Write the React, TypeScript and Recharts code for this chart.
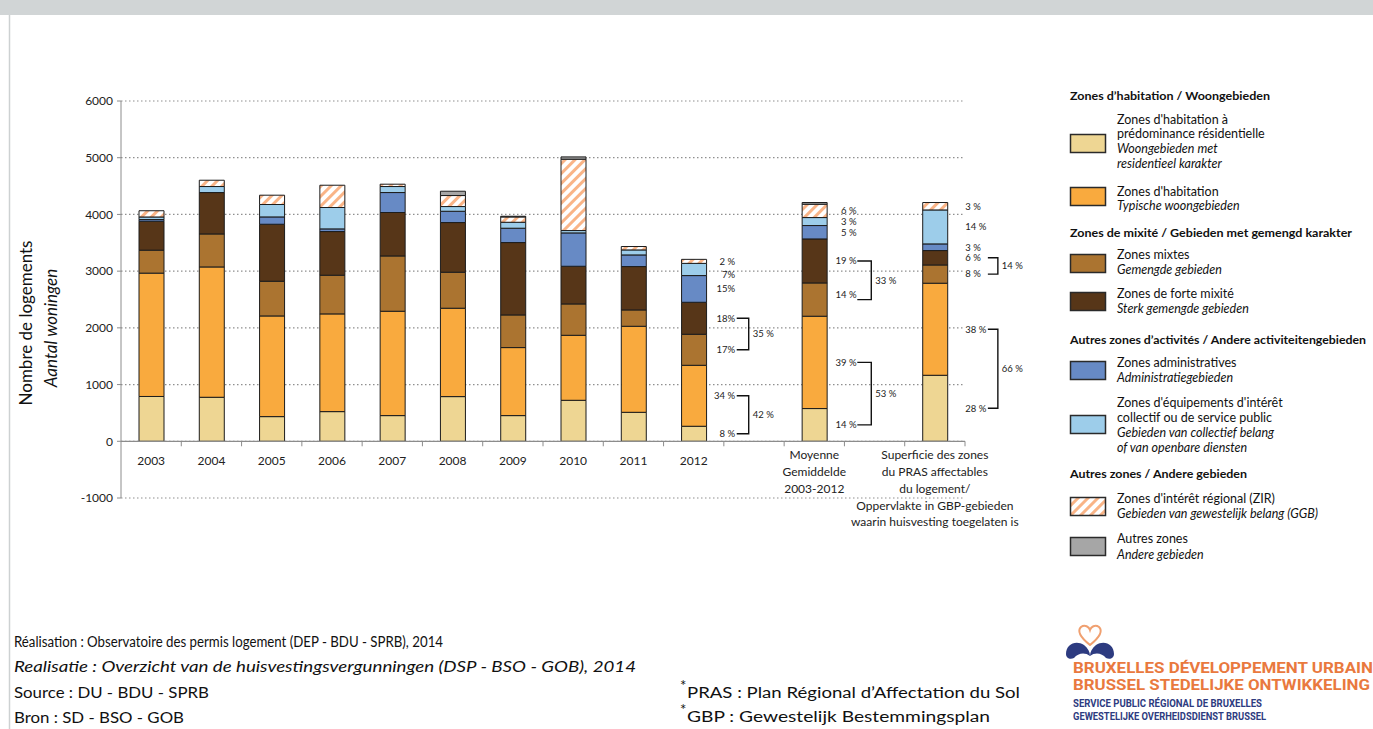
import React from 'react';
import { BarChart, Bar, XAxis, YAxis, CartesianGrid, ReferenceLine, LabelList } from 'recharts';

const FONT = 'Lato, "Open Sans", sans-serif';

// ---------- DATA ----------
const categoryKeys = ['2003', '2004', '2005', '2006', '2007', '2008', '2009', '2010', '2011', '2012', 'gap1', 'moy', 'gap2', 'sup'];
const categoryLabels: string[][] = [
  ['2003'], ['2004'], ['2005'], ['2006'], ['2007'], ['2008'], ['2009'], ['2010'], ['2011'], ['2012'],
  [],
  ['Moyenne', 'Gemiddelde', '2003-2012'],
  [],
  ['Superficie des zones', 'du PRAS affectables', 'du logement/', 'Oppervlakte in GBP-gebieden', 'waarin huisvesting toegelaten is'],
];

const residential = [790, 776, 435, 523, 453, 788, 453, 723, 511, 265, null, 577, null, 1164];
const typical = [2175, 2298, 1775, 1723, 1840, 1558, 1199, 1146, 1517, 1075, null, 1628, null, 1623];
const mixed = [405, 582, 612, 682, 975, 635, 576, 553, 288, 547, null, 587, null, 322];
const strongMixed = [510, 730, 1005, 770, 766, 876, 1276, 664, 765, 564, null, 776, null, 254];
const administrative = [30, null, 129, 47, 352, 199, 253, 588, 205, 471, null, 236, null, 117];
const facilities = [45, 106, 219, 377, 106, 83, 105, 42, 88, 215, null, 141, null, 599];
const zir = [110, 111, 164, 393, 41, 194, 94, 1258, 60, 71, null, 235, null, 131];
const other = [null, null, null, null, null, 76, 12, 40, null, null, null, 30, null, null];

const residentialPct = [null, null, null, null, null, null, null, null, null, '8 %', null, '14 %', null, '28 %'];
const typicalPct = [null, null, null, null, null, null, null, null, null, '34 %', null, '39 %', null, '38 %'];
const mixedPct = [null, null, null, null, null, null, null, null, null, '17%', null, '14 %', null, '8 %'];
const strongMixedPct = [null, null, null, null, null, null, null, null, null, '18%', null, '19 %', null, '6 %'];
const administrativePct = [null, null, null, null, null, null, null, null, null, '15%', null, '5 %', null, '3 %'];
const facilitiesPct = [null, null, null, null, null, null, null, null, null, '7%', null, '3 %', null, '14 %'];
const zirPct = [null, null, null, null, null, null, null, null, null, '2 %', null, '6 %', null, '3 %'];

const brackets = [
  { cat: '2012', lower: 'residential', upper: 'typical', text: '42 %' },
  { cat: '2012', lower: 'mixed', upper: 'strongMixed', text: '35 %' },
  { cat: 'moy', lower: 'residential', upper: 'typical', text: '53 %' },
  { cat: 'moy', lower: 'mixed', upper: 'strongMixed', text: '33 %' },
  { cat: 'sup', lower: 'residential', upper: 'typical', text: '66 %' },
  { cat: 'sup', lower: 'mixed', upper: 'strongMixed', text: '14 %' },
];

const yTicks = [-1000, 0, 1000, 2000, 3000, 4000, 5000, 6000];

// ---------- STYLE / LAYOUT ----------
const series = [
  { key: 'residential', values: residential, pct: residentialPct, fill: '#EED693' },
  { key: 'typical', values: typical, pct: typicalPct, fill: '#F9AA3E' },
  { key: 'mixed', values: mixed, pct: mixedPct, fill: '#AB7430' },
  { key: 'strongMixed', values: strongMixed, pct: strongMixedPct, fill: '#573618' },
  { key: 'administrative', values: administrative, pct: administrativePct, fill: '#678AC5' },
  { key: 'facilities', values: facilities, pct: facilitiesPct, fill: '#9DCDEA' },
  { key: 'zir', values: zir, pct: zirPct, fill: 'url(#zirHatch)' },
  { key: 'other', values: other, pct: null as any, fill: '#A6A6A6' },
];

const data = categoryKeys.map((k, i) => {
  const row: Record<string, any> = { key: k };
  series.forEach((s) => {
    row[s.key] = s.values[i];
    if (s.pct) row[`${s.key}Pct`] = s.pct[i];
  });
  return row;
});

const CHART_W = 1060;
const CHART_H = 560;
const MARGIN = { top: 101, right: 95, bottom: 0, left: 61 };
const YAXIS_W = 60;
const XAXIS_H = 62;
const PLOT_LEFT = MARGIN.left + YAXIS_W;
const PLOT_W = CHART_W - PLOT_LEFT - MARGIN.right;
const PLOT_H = CHART_H - MARGIN.top - MARGIN.bottom - XAXIS_H;
const SLOT_W = PLOT_W / categoryKeys.length;
const ZERO_Y = MARGIN.top + (PLOT_H * 6000) / 7000;
const AXIS_GRAY = '#8c8c8c';

const annotationStyle: Record<string, { anchor: 'start' | 'end'; labelDx: number; bracketDx: number; tickLen: number }> = {
  '2012': { anchor: 'end', labelDx: 41, bracketDx: 55, tickLen: 12 },
  moy: { anchor: 'end', labelDx: 42, bracketDx: 57, tickLen: 14 },
  sup: { anchor: 'start', labelDx: 30, bracketDx: 63, tickLen: 10 },
};
const labelNudge: Record<string, number> = { '2012:facilities': 5, 'moy:mixed': -5 };

const segMid = (seriesKey: string, idx: number) => {
  let base = 0;
  for (const s of series) {
    const v = (s.values[idx] as number) || 0;
    if (s.key === seriesKey) return base + v / 2;
    base += v;
  }
  return base;
};

const makePctLabel = (seriesKey: string) => (props: any) => {
  const text = props.value;
  if (!text || typeof text !== 'string') return null;
  const vb = props.viewBox || {};
  const x = Number(vb.x ?? props.x);
  const y = Number(vb.y ?? props.y);
  const w = Number(vb.width ?? props.width);
  const h = Number(vb.height ?? props.height);
  const cx = x + w / 2;
  const idx = Math.round((cx - PLOT_LEFT) / SLOT_W - 0.5);
  const cat = categoryKeys[idx];
  const st = annotationStyle[cat];
  if (!st) return null;
  const nudge = labelNudge[`${cat}:${seriesKey}`] || 0;
  return (
    <text key={`${seriesKey}-${idx}`} x={cx + st.labelDx} y={y + h / 2 + nudge} dy="0.35em" textAnchor={st.anchor}
      fontSize={9.5} fill="#222" fontFamily={FONT}>{text}</text>
  );
};

const CategoryTick = (props: any) => {
  const { x, payload } = props;
  const idx = categoryKeys.indexOf(payload.value);
  const lines = categoryLabels[idx] || [];
  const bx = x + SLOT_W / 2;
  const multi = lines.length > 1;
  return (
    <g>
      <line x1={bx} x2={bx} y1={ZERO_Y} y2={ZERO_Y + 5} stroke={AXIS_GRAY} strokeWidth={1} />
      {lines.map((l, i) => (
        <text key={i} x={x} y={ZERO_Y + (multi ? 18 + i * 16.8 : 24)} textAnchor="middle" fontSize={12}
          fill="#222" fontFamily={FONT}>{l}</text>
      ))}
    </g>
  );
};

const makeBracket = (cat: string, text: string, nudgeTop: number) => (p: any) => {
  const st = annotationStyle[cat];
  const bx = p.x1 + st.bracketDx;
  const y1 = p.y1 + nudgeTop;
  const y2 = p.y2;
  return (
    <g>
      <path d={`M${bx - st.tickLen},${y1} H${bx} V${y2} H${bx - st.tickLen}`} stroke="#111" strokeWidth={1.4} fill="none" />
      <text x={bx + 4} y={(y1 + y2) / 2} dy="0.35em" fontSize={9.5} fill="#222" fontFamily={FONT}>{text}</text>
    </g>
  );
};

// ---------- OVERLAY (legend, footer, logo) ----------
const LEGEND_TEXT_X = 1117;
const legendHeaders = [
  { text: 'Zones d’habitation / Woongebieden', y: 96, w: 200 },
  { text: 'Zones de mixité / Gebieden met gemengd karakter', y: 233, w: 282 },
  { text: 'Autres zones d’activités / Andere activiteitengebieden', y: 340, w: 296 },
  { text: 'Autres zones / Andere gebieden', y: 474, w: 177 },
];
const legendItems = [
  { fill: '#EED693', sy: 134, lines: [['Zones d\'habitation à', 120, false], ['prédominance résidentielle', 134, false], ['Woongebieden met', 149, true], ['residentieel karakter', 164, true]] },
  { fill: '#F9AA3E', sy: 187, lines: [['Zones d\'habitation', 192, false], ['Typische woongebieden', 206, true]] },
  { fill: '#AB7430', sy: 254, lines: [['Zones mixtes', 255, false], ['Gemengde gebieden', 270, true]] },
  { fill: '#573618', sy: 292, lines: [['Zones de forte mixité', 294, false], ['Sterk gemengde gebieden', 309, true]] },
  { fill: '#678AC5', sy: 361, lines: [['Zones administratives', 363, false], ['Administratiegebieden', 378, true]] },
  { fill: '#9DCDEA', sy: 415, lines: [['Zones d\'équipements d\'intérêt', 403, false], ['collectif ou de service public', 418, false], ['Gebieden van collectief belang', 433, true], ['of van openbare diensten', 448, true]] },
  { fill: 'url(#zirHatchLegend)', sy: 497, lines: [['Zones d\'intérêt régional (ZIR)', 499, false], ['Gebieden van gewestelijk belang (GGB)', 514, true]] },
  { fill: '#A6A6A6', sy: 537, lines: [['Autres zones', 539, false], ['Andere gebieden', 555, true]] },
];

const Overlay = () => (
  <svg width={1373} height={729} style={{ position: 'absolute', left: 0, top: 0 }} fontFamily={FONT}>
    <defs>
      <pattern id="zirHatchLegend" patternUnits="userSpaceOnUse" width="7" height="7" patternTransform="rotate(45)">
        <rect width="7" height="7" fill="#fff" />
        <rect x="0" y="0" width="3" height="7" fill="#F9B487" />
      </pattern>
    </defs>
    <rect x={0} y={0} width={1373} height={15} fill="#D1D5D6" />
    <line x1={9.5} x2={9.5} y1={15} y2={729} stroke="#CDD1D2" strokeWidth={1.5} />

    {/* Y axis title */}
    <text transform="translate(32,323) rotate(-90)" textAnchor="middle" fontSize={17} fill="#111">Nombre de logements</text>
    <text transform="translate(57,328) rotate(-90)" textAnchor="middle" fontSize={17} fill="#111" fontStyle="italic">Aantal woningen</text>

    {/* Legend */}
    {legendHeaders.map((h, i) => (
      <text key={i} x={1070} y={h.y + 4} fontSize={11} fontWeight={700} fill="#111" textLength={h.w} lengthAdjust="spacingAndGlyphs">{h.text}</text>
    ))}
    {legendItems.map((it, i) => (
      <g key={i}>
        <rect x={1070.5} y={it.sy + 0.5} width={35} height={18} fill={it.fill} stroke="#2a2a2a" strokeWidth={1.5} />
        {it.lines.map((l: any, j: number) => (
          <text key={j} x={LEGEND_TEXT_X} y={l[1] + 4} fontSize={12.5} fill="#111" fontStyle={l[2] ? 'italic' : 'normal'}>{l[0]}</text>
        ))}
      </g>
    ))}

    {/* Footer */}
    <text x={14} y={647} fontSize={15.5} fill="#111" textLength={429} lengthAdjust="spacingAndGlyphs">Réalisation : Observatoire des permis logement (DEP - BDU - SPRB), 2014</text>
    <text x={14} y={672} fontSize={15.5} fill="#111" fontStyle="italic" textLength={622} lengthAdjust="spacingAndGlyphs">Realisatie : Overzicht van de huisvestingsvergunningen (DSP - BSO - GOB), 2014</text>
    <text x={14} y={698} fontSize={15.5} fill="#111" textLength={195} lengthAdjust="spacingAndGlyphs">Source : DU - BDU - SPRB</text>
    <text x={14} y={723} fontSize={15.5} fill="#111" textLength={170} lengthAdjust="spacingAndGlyphs">Bron : SD - BSO - GOB</text>

    <text x={680} y={691} fontSize={15} fill="#111">*</text>
    <text x={687} y={698} fontSize={15.5} fill="#111" textLength={333} lengthAdjust="spacingAndGlyphs">PRAS :  Plan Régional d’Affectation du Sol</text>
    <text x={680} y={715} fontSize={15} fill="#111">*</text>
    <text x={687} y={722} fontSize={15.5} fill="#111" textLength={303} lengthAdjust="spacingAndGlyphs">GBP   :  Gewestelijk Bestemmingsplan</text>

    {/* Logo */}
    <path d="M1090,645 C1080,637 1077,631 1081,627 C1085,624 1089,627 1090,630 C1091,627 1095,624 1099,627 C1103,631 1100,637 1090,645 Z"
      fill="none" stroke="#F0A070" strokeWidth={2} />
    <path d="M1066,654 C1066,644 1076,640 1084,645 C1088,648 1090,652 1090,656 C1085,652 1078,653 1074,658 C1070,660 1066,658 1066,654 Z" fill="#2D3B80" />
    <path d="M1114,654 C1114,644 1104,640 1096,645 C1092,648 1090,652 1090,656 C1095,652 1102,653 1106,658 C1110,660 1114,658 1114,654 Z" fill="#2D3B80" />
    <text x={1073} y={673} fontSize={14} fontWeight={700} fill="#E9793E" fontFamily="Roboto, sans-serif" textLength={300} lengthAdjust="spacingAndGlyphs">BRUXELLES DÉVELOPPEMENT URBAIN</text>
    <text x={1073} y={690} fontSize={14} fontWeight={700} fill="#E9793E" fontFamily="Roboto, sans-serif" textLength={297} lengthAdjust="spacingAndGlyphs">BRUSSEL STEDELIJKE ONTWIKKELING</text>
    <text x={1073} y={707} fontSize={10} fontWeight={700} fill="#2D3B80" fontFamily="Roboto, sans-serif" textLength={189} lengthAdjust="spacingAndGlyphs">SERVICE PUBLIC RÉGIONAL DE BRUXELLES</text>
    <text x={1073} y={720} fontSize={10} fontWeight={700} fill="#2D3B80" fontFamily="Roboto, sans-serif" textLength={193} lengthAdjust="spacingAndGlyphs">GEWESTELIJKE OVERHEIDSDIENST BRUSSEL</text>
  </svg>
);

export default function App() {
  return (
    <div style={{ position: 'absolute', left: 0, top: 0, width: 1373, height: 729, background: '#fff', overflow: 'hidden', fontFamily: FONT }}>
      <div style={{ position: 'absolute', left: 0, top: 0 }}>
        <BarChart width={CHART_W} height={CHART_H} data={data} margin={MARGIN} barSize={25}>
          <defs>
            <pattern id="zirHatch" patternUnits="userSpaceOnUse" width="7" height="7" patternTransform="rotate(45)">
              <rect width="7" height="7" fill="#fff" />
              <rect x="0" y="0" width="3" height="7" fill="#F9B487" />
            </pattern>
          </defs>
          <CartesianGrid vertical={false} stroke="#8f8f8f" strokeDasharray="1.5 2.5" strokeWidth={1.2} />
          <XAxis dataKey="key" interval={0} axisLine={false} tickLine={false} height={XAXIS_H} tick={CategoryTick} />
          <YAxis domain={[-1000, 6000]} ticks={yTicks} interval={0} width={YAXIS_W}
            axisLine={{ stroke: AXIS_GRAY }} tickLine={{ stroke: AXIS_GRAY }} tickSize={4} tickMargin={4}
            tick={{ fontSize: 12, fill: '#222', fontFamily: FONT }} />
          <ReferenceLine y={0} stroke={AXIS_GRAY} strokeWidth={1.2} />
          {series.map((s) => (
            <Bar key={s.key} dataKey={s.key} stackId="a" fill={s.fill} stroke="#1c1c1c" strokeWidth={1} isAnimationActive={false}>
              {s.pct ? <LabelList dataKey={`${s.key}Pct`} content={makePctLabel(s.key)} /> : null}
            </Bar>
          ))}
          {brackets.map((b, i) => {
            const idx = categoryKeys.indexOf(b.cat);
            const nudgeTop = 0;
            return (
              <ReferenceLine key={`br${i}`} ifOverflow="visible"
                segment={[{ x: b.cat, y: segMid(b.upper, idx) }, { x: b.cat, y: segMid(b.lower, idx) }]}
                shape={makeBracket(b.cat, b.text, nudgeTop)} />
            );
          })}
        </BarChart>
      </div>
      <Overlay />
    </div>
  );
}
